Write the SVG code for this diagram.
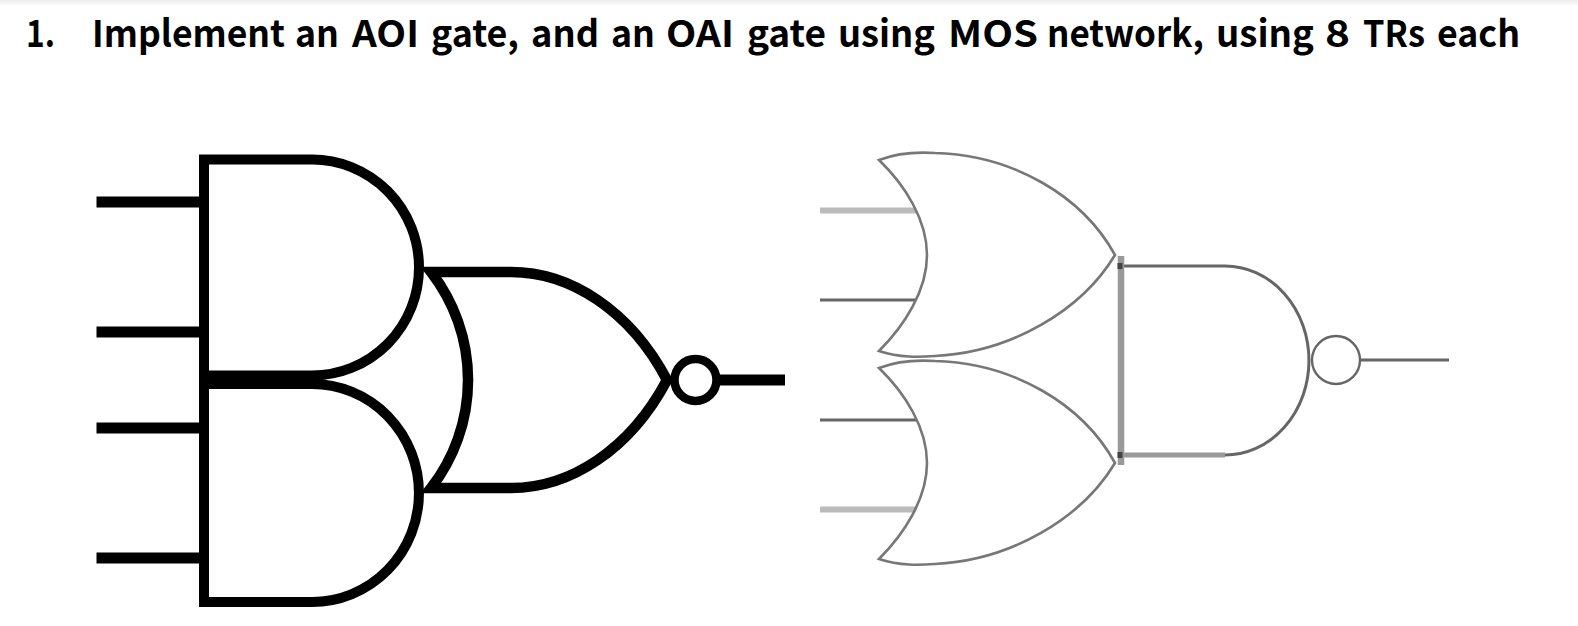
<svg xmlns="http://www.w3.org/2000/svg" width="1578" height="626" viewBox="0 0 1578 626">
<style>
.t{font-family:"Noto Sans CJK KR","Noto Sans",sans-serif;font-weight:700;font-size:37px;fill:#000}
.g{fill:#fff;stroke:#000;stroke-width:10;stroke-linejoin:miter}
.w{fill:none;stroke:#000;stroke-width:11}
.g2{fill:#fff;stroke:#777;stroke-width:2.6;stroke-linejoin:miter}
.w2{fill:none;stroke:#666;stroke-width:3}
.w3{fill:none;stroke:#bbb;stroke-width:6}
</style>
<defs><linearGradient id="sh" x1="0" y1="0" x2="0" y2="1"><stop offset="0" stop-color="#ececec"/><stop offset="1" stop-color="#fff"/></linearGradient></defs>
<rect width="1578" height="626" fill="#fff"/>
<rect width="1578" height="6" fill="url(#sh)"/>
<g id="title"><text class="t" y="47" lengthAdjust="spacingAndGlyphs"><tspan x="26" textLength="29" lengthAdjust="spacingAndGlyphs">1.</tspan> <tspan x="92" textLength="193" lengthAdjust="spacingAndGlyphs">Implement</tspan> <tspan x="295" textLength="44" lengthAdjust="spacingAndGlyphs">an</tspan> <tspan x="352" textLength="67" lengthAdjust="spacingAndGlyphs">AOI</tspan> <tspan x="431" textLength="88" lengthAdjust="spacingAndGlyphs">gate,</tspan> <tspan x="531" textLength="68" lengthAdjust="spacingAndGlyphs">and</tspan> <tspan x="611" textLength="44" lengthAdjust="spacingAndGlyphs">an</tspan> <tspan x="666" textLength="68" lengthAdjust="spacingAndGlyphs">OAI</tspan> <tspan x="747" textLength="79" lengthAdjust="spacingAndGlyphs">gate</tspan> <tspan x="838" textLength="97" lengthAdjust="spacingAndGlyphs">using</tspan> <tspan x="948" textLength="90" lengthAdjust="spacingAndGlyphs">MOS</tspan> <tspan x="1047" textLength="157" lengthAdjust="spacingAndGlyphs">network,</tspan> <tspan x="1216" textLength="98" lengthAdjust="spacingAndGlyphs">using</tspan> <tspan x="1325" textLength="25" lengthAdjust="spacingAndGlyphs">8</tspan> <tspan x="1363" textLength="62" lengthAdjust="spacingAndGlyphs">TRs</tspan> <tspan x="1437" textLength="83" lengthAdjust="spacingAndGlyphs">each</tspan></text></g>
<g id="connectors">
<path class="w" d="M96.500 202H200M96.500 332H200M96.500 428H200M96.500 558H200M720 380H785"/>
<path class="w3" d="M820 210.500H916M820 509.500H916"/>
<path class="w2" d="M820 300H916M820 420H916M1360 360H1449"/>
</g>
<g id="aoi-and-top"><path class="g" d="M204 159.500H312A107 108 0 0 1 312 375.500H204Z"/></g>
<g id="aoi-and-bottom"><path class="g" d="M204 384H312A107 109 0 0 1 312 602H204Z"/></g>
<g id="aoi-nor"><path fill="#fff" stroke="#000" stroke-width="10.500" d="M431 272H511C570 272 630 310 667 380C630 450 570 488 511 488H431A176 176 0 0 0 431 272Z"/><circle cx="695.500" cy="380" r="21" fill="#fff" stroke="#000" stroke-width="8.500"/></g>
<g id="oai-or-top"><path class="g2" d="M879 160C900 152 920 152 935 153C1012 155 1082 195 1115 255C1082 310 1012 352 935 356C920 357 900 358 879 351C905 325 927 290 927 255C927 220 905 185 879 160Z"/></g>
<g id="oai-or-bottom"><path class="g2" d="M879 368C900 360 920 360 935 361C1012 363 1082 403 1115 463C1082 518 1012 560 935 564C920 565 900 566 879 559C905 533 927 498 927 463C927 428 905 393 879 368Z"/></g>
<g id="oai-nand"><path fill="#fff" stroke="#666" stroke-width="3" d="M1121 266H1225A84 94.500 0 0 1 1225 455H1121"/><path fill="none" stroke="#999" stroke-width="6.500" d="M1121 256V465"/><path fill="none" stroke="#999" stroke-width="5" d="M1121 455H1225"/><path fill="none" stroke="#444" stroke-width="5" d="M1120 263V269M1120 452V458"/><circle cx="1336" cy="360" r="24" fill="#fff" stroke="#666" stroke-width="2.400"/></g>
</svg>
